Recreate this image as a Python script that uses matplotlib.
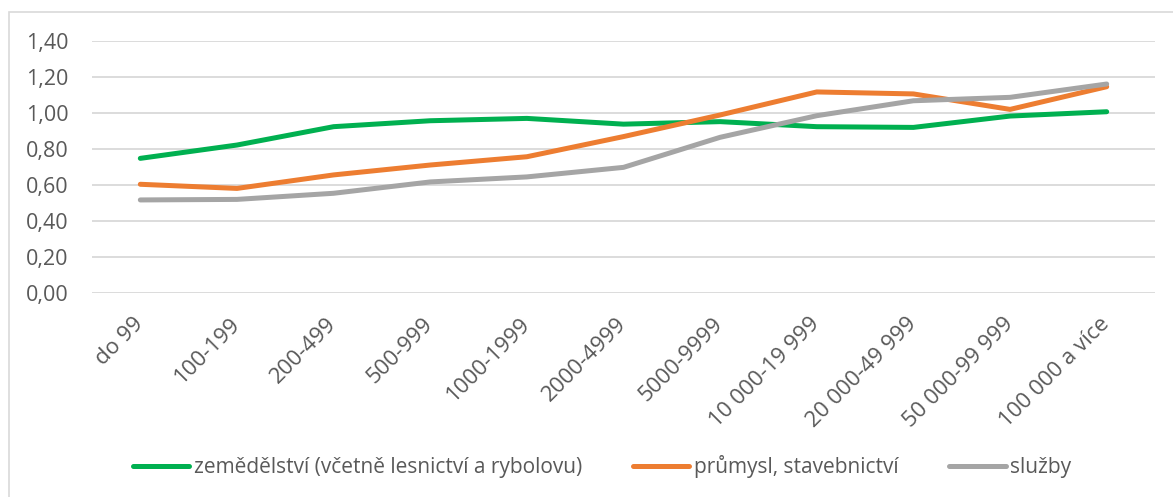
import matplotlib
matplotlib.use('Agg')
import matplotlib.pyplot as plt
from matplotlib.patches import Rectangle
from matplotlib.ticker import FuncFormatter

categories = ['do 99', '100-199', '200-499', '500-999', '1000-1999', '2000-4999',
              '5000-9999', '10 000-19 999', '20 000-49 999', '50 000-99 999', '100 000 a více']
zemedelstvi = [0.748, 0.822, 0.924, 0.957, 0.970, 0.938, 0.952, 0.924, 0.920, 0.983, 1.007]
prumysl = [0.604, 0.581, 0.656, 0.711, 0.757, 0.869, 0.989, 1.117, 1.106, 1.020, 1.146]
sluzby = [0.517, 0.520, 0.554, 0.617, 0.645, 0.698, 0.865, 0.985, 1.068, 1.087, 1.161]

labels = ['zemědělství (včetně lesnictví a rybolovu)', 'průmysl, stavebnictví', 'služby']
colors = ['#00B050', '#ED7D31', '#A5A5A5']

W, H = 1173, 497
plt.rcParams['font.family'] = ['Open Sans', 'DejaVu Sans']
fig = plt.figure(figsize=(W / 100, H / 100), dpi=100)

# chart border
fig.patches.append(Rectangle((9 / W, -0.05), 1.2, 1 - 12 / H + 0.05, transform=fig.transFigure,
                             fill=False, edgecolor='#d9d9d9', linewidth=1.2))

ax = fig.add_axes([92 / W, 1 - 293 / H, (1155 - 92) / W, (293 - 41) / H])
x = range(len(categories))
for vals, lab, col in zip([zemedelstvi, prumysl, sluzby], labels, colors):
    ax.plot(x, vals, color=col, linewidth=3.6, solid_capstyle='round', label=lab)

ax.set_xlim(-0.5, len(categories) - 0.5)
ax.set_ylim(0, 1.4)
ax.set_yticks([i * 0.2 for i in range(8)])
ax.yaxis.set_major_formatter(FuncFormatter(lambda v, p: f'{v:.2f}'.replace('.', ',')))
ax.grid(axis='y', color='#d9d9d9', linewidth=1.3)
ax.set_axisbelow(True)
for s in ax.spines.values():
    s.set_visible(False)
ax.tick_params(axis='both', length=0, colors='#595959', labelsize=16)
ax.tick_params(axis='y', labelsize=15.5, pad=17)
ax.set_xticks(list(x))
ax.set_xticklabels(categories, rotation=45, ha='right', va='center', rotation_mode='anchor')
ax.tick_params(axis='x', pad=20)

fig.legend(loc='center', bbox_to_anchor=(602 / W, 1 - 467 / H), ncol=3, frameon=False,
           fontsize=15, labelcolor='#595959', handlelength=2.7, handletextpad=0.22,
           columnspacing=2.45)

fig.savefig('out.png', dpi=100)
